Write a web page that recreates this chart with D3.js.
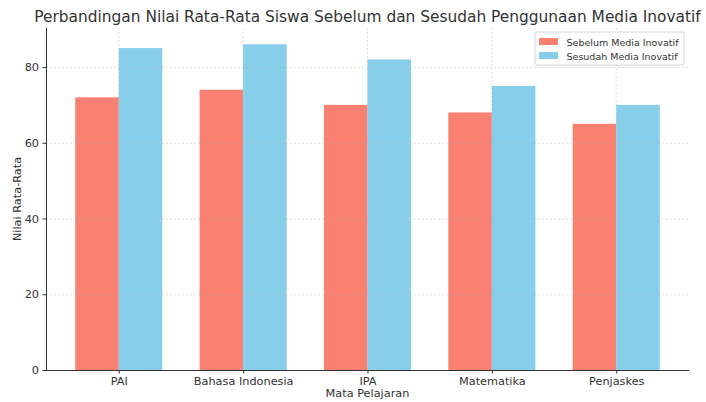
<!DOCTYPE html>
<html>
<head>
<meta charset="utf-8">
<script src="https://cdn.jsdelivr.net/npm/d3@7"></script>
<style>
  body { margin: 0; background: #fff; }
  text { font-family: "DejaVu Sans", sans-serif; fill: #333; }
</style>
</head>
<body>
<div id="chart"></div>
<script>
var subjects = ["PAI", "Bahasa Indonesia", "IPA", "Matematika", "Penjaskes"];
var sebelum = [72, 74, 70, 68, 65];
var sesudah = [85, 86, 82, 75, 70];
var seriesNames = ["Sebelum Media Inovatif", "Sesudah Media Inovatif"];
var seriesColors = ["#FA8072", "#87CEEB"];
var yTicks = [0, 20, 40, 60, 80];

var W = 706, H = 402;
var plotL = 46, plotR = 689, plotT = 28, plotB = 370;

var svg = d3.select("#chart").append("svg")
  .attr("width", W).attr("height", H);

// x in category-index units, like matplotlib
var x = d3.scaleLinear().domain([-0.585, subjects.length - 1 + 0.585]).range([plotL, plotR]);
var y = d3.scaleLinear().domain([0, 90.3]).range([plotB, plotT]);
var bw = 0.35;

var series = [sebelum, sesudah];

// bars
series.forEach(function(vals, s) {
  svg.append("g").selectAll("rect")
    .data(vals)
    .enter().append("rect")
    .attr("x", function(d, i) { return x(s === 0 ? i - bw : i); })
    .attr("width", x(bw) - x(0))
    .attr("y", function(d) { return y(d); })
    .attr("height", function(d) { return y(0) - y(d); })
    .attr("fill", seriesColors[s]);
});

// grid (dashed, faint, drawn over bars)
var grid = svg.append("g").attr("stroke", "#b0b0b0").attr("stroke-dasharray", "2,2")
  .attr("stroke-width", 0.8).attr("opacity", 0.5);
grid.selectAll(".gy").data(yTicks).enter().append("line")
  .attr("x1", plotL).attr("x2", plotR)
  .attr("y1", function(d) { return y(d) + 0.5; }).attr("y2", function(d) { return y(d) + 0.5; });
grid.selectAll(".gx").data(subjects).enter().append("line")
  .attr("y1", plotT).attr("y2", plotB)
  .attr("x1", function(d, i) { return x(i); }).attr("x2", function(d, i) { return x(i); });

// axes
var yAxis = d3.axisLeft(y).tickValues(yTicks).tickSize(3.5).tickPadding(3.5);
var gy = svg.append("g").attr("transform", "translate(" + plotL + ",0)").call(yAxis);
var xAxis = d3.axisBottom(x).tickValues(d3.range(subjects.length))
  .tickFormat(function(i) { return subjects[i]; }).tickSize(3.5).tickPadding(3);
var gx = svg.append("g").attr("transform", "translate(0," + plotB + ")").call(xAxis);

[gy, gx].forEach(function(g) {
  g.select(".domain").attr("stroke", "#333").attr("stroke-width", 1);
  g.selectAll(".tick line").attr("stroke", "#333");
  g.selectAll(".tick text").attr("font-size", 11.3).attr("fill", "#333")
    .style("font-family", "DejaVu Sans, sans-serif");
});
// plain spines, no end caps
gy.select(".domain").attr("d", "M0.5," + plotT + "V" + plotB);
gx.select(".domain").attr("d", "M" + plotL + ",0.5H" + plotR);

// labels
svg.append("text").attr("x", (plotL + plotR) / 2).attr("y", 22)
  .attr("text-anchor", "middle").attr("font-size", 15.4).text("Perbandingan Nilai Rata-Rata Siswa Sebelum dan Sesudah Penggunaan Media Inovatif");
svg.append("text").attr("x", (plotL + plotR) / 2).attr("y", 397)
  .attr("text-anchor", "middle").attr("font-size", 11.3).text("Mata Pelajaran");
svg.append("text").attr("transform", "translate(21," + ((plotT + plotB) / 2) + ") rotate(-90)")
  .attr("text-anchor", "middle").attr("font-size", 11.3).text("Nilai Rata-Rata");

// legend
var lg = svg.append("g").attr("transform", "translate(535,32)");
lg.append("rect").attr("width", 149).attr("height", 33).attr("rx", 2)
  .attr("fill", "#fff").attr("fill-opacity", 0.8).attr("stroke", "#ccc").attr("stroke-width", 0.8);
seriesNames.forEach(function(name, i) {
  lg.append("rect").attr("x", 4).attr("y", 6 + i * 14).attr("width", 19).attr("height", 7)
    .attr("fill", seriesColors[i]);
  lg.append("text").attr("x", 31.5).attr("y", 13.5 + i * 14).attr("font-size", 9.5).text(name);
});
</script>
</body>
</html>
